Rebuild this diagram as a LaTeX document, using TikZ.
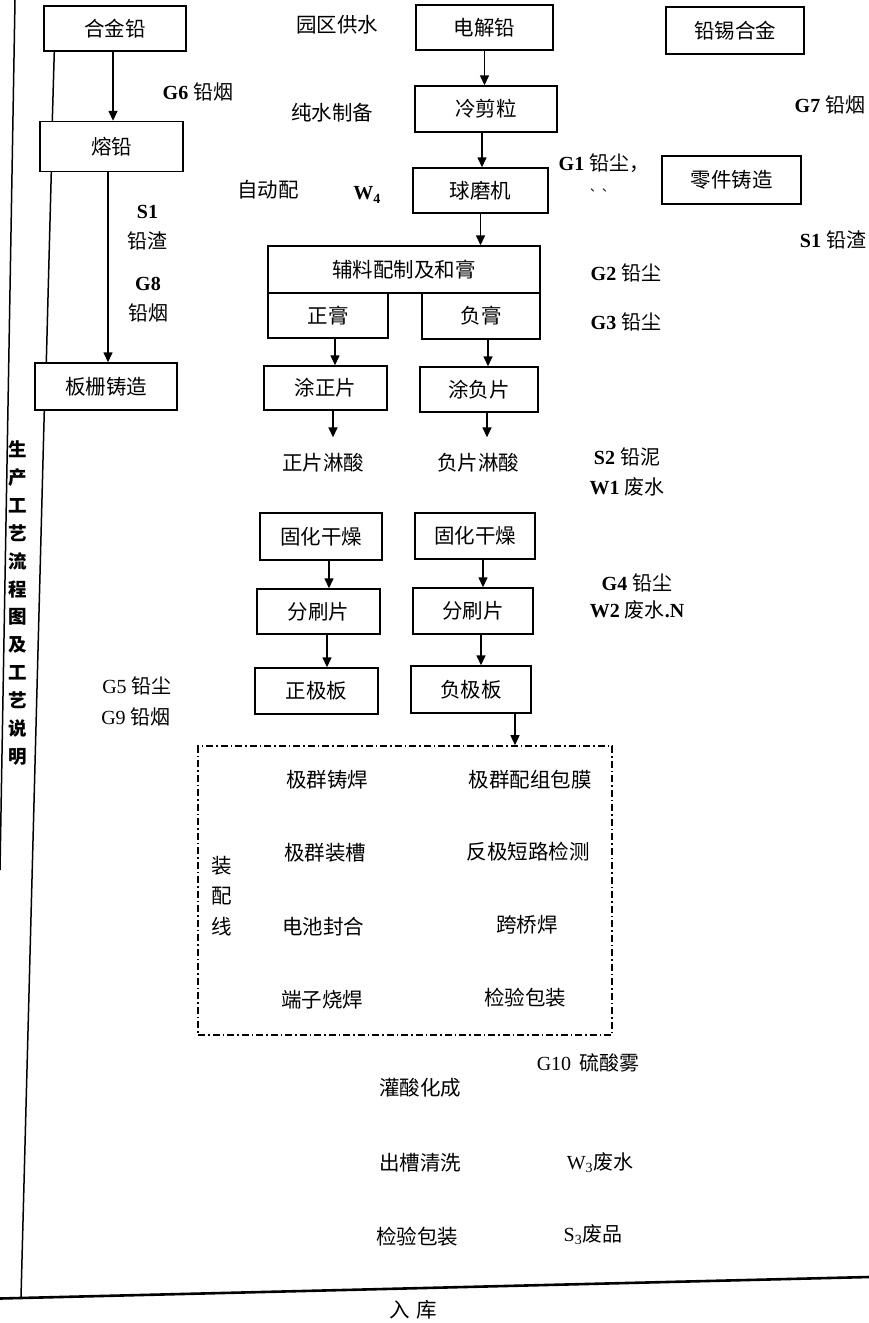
\documentclass[tikz,border=0pt]{standalone}
\usepackage{fontspec}
\setmainfont{Liberation Serif}
\newfontfamily\cjk{Noto Sans CJK SC}
\newcommand\zhs[1]{{\cjk #1}}
\usetikzlibrary{calc,arrows.meta}
\begin{document}
\begin{tikzpicture}[x=1pt,y=-1pt,
  every node/.style={inner sep=0pt},
  box/.style={draw, line width=1.4pt, font=\cjk\fontsize{20.5}{24}\selectfont, align=center},
  zt/.style={font=\cjk\fontsize{20.5}{24}\selectfont, align=center},
  mt/.style={font=\fontsize{20}{24}\selectfont, align=center},
  arr/.style={line width=1.4pt, -{Triangle[length=10pt,width=9pt]}},
  ln/.style={line width=1.5pt},
  bln/.style={line width=2.6pt},
  dd/.style={draw, line width=1.6pt, dash pattern=on 7pt off 3pt on 1.5pt off 3pt},
]
\useasboundingbox (0,0) rectangle (869,1323);

% ---------- frame lines ----------
\coordinate (o1) at (15,0);
\coordinate (o2) at (0,870);
\coordinate (bL) at (0,1298.5);
\coordinate (bR) at (869,1277);
\coordinate (bl) at (21,1297.5);
\draw[ln] (o1) -- (o2);
\draw[bln] (bL) -- (bR);

\node[font=\cjk\bfseries\fontsize{18.5}{27.9}\selectfont, align=center] (vt) at (18,603)
  {生\\产\\工\\艺\\流\\程\\图\\及\\工\\艺\\说\\明};

% ---------- left column ----------
\node[box, minimum width=142pt, minimum height=45pt] (hjq) at (115,28.5) {合金铅};
\node[box, minimum width=143pt, minimum height=50pt] (rq) at (111.5,146.5) {熔铅};
\node[box, minimum width=142pt, minimum height=47pt] (bs) at (106,386.5) {板栅铸造};

\draw[arr] ($(hjq.south)+(-2,0)$) -- ($(hjq.south |- rq.north)+(-2,0)$);
\draw[arr] ($(rq.south)+(-3.5,0)$) -- ($(rq.south |- bs.north)+(-3.5,0)$);
\draw[ln] ($(hjq.south west)+(11,0)$) -- ($(rq.north west)+(13,0)$);
\draw[ln] ($(rq.south west)+(12,0)$) -- ($(bs.north west)+(12,0)$);
\draw[ln] ($(bs.south west)+(10,0)$) -- (bl);

\node[mt] (g6) at (198,92) {\textbf{G6} \zhs{铅烟}};
\node[mt, font=\fontsize{20}{30}\selectfont] (s1a) at (147.5,228) {\textbf{S1}\\\zhs{铅渣}};
\node[mt, font=\fontsize{20}{30}\selectfont] (g8) at (148,300) {\textbf{G8}\\\zhs{铅烟}};
\node[mt] (g5) at (137,686) {G5 \zhs{铅尘}};
\node[mt] (g9) at (136,717) {G9 \zhs{铅烟}};

% ---------- water labels ----------
\node[zt] (yq) at (337,25) {园区供水};
\node[zt] (cs) at (332,113) {纯水制备};
\node[zt] (zdp) at (268,190) {自动配};
\node[mt] (w4) at (367,195) {\textbf{W\textsubscript{4}}};

% ---------- middle column ----------
\node[box, minimum width=137pt, minimum height=45pt] (dj) at (484.5,27.5) {电解铅};
\node[box, minimum width=142pt, minimum height=46pt] (lj) at (486,109) {冷剪粒};
\node[box, minimum width=135pt, minimum height=45pt] (qm) at (480.5,190.5) {球磨机};
\node[box, minimum width=272pt, minimum height=47pt] (fl) at (404,269.5) {辅料配制及和膏};
\node[box, minimum width=120pt, minimum height=45pt] (zg) at (328,315.5) {正膏};
\node[box, minimum width=118pt, minimum height=46pt] (fg) at (481,316) {负膏};
\node[box, minimum width=123pt, minimum height=44pt] (tz) at (325.5,388) {涂正片};
\node[box, minimum width=118pt, minimum height=45pt] (tf) at (479,389.5) {涂负片};
\node[zt] (lsz) at (323,463) {正片淋酸};
\node[zt] (lsf) at (478,463) {负片淋酸};
\node[box, minimum width=122pt, minimum height=47pt] (gh1) at (321,536.5) {固化干燥};
\node[box, minimum width=120pt, minimum height=46pt] (gh2) at (475,536) {固化干燥};
\node[box, minimum width=123pt, minimum height=45pt] (fs1) at (318.5,611.5) {分刷片};
\node[box, minimum width=120pt, minimum height=46pt] (fs2) at (473,611) {分刷片};
\node[box, minimum width=123pt, minimum height=46pt] (zj) at (316.5,691) {正极板};
\node[box, minimum width=120pt, minimum height=47pt] (fj) at (471,689.5) {负极板};

\draw[arr] (dj.south) -- (dj.south |- lj.north);
\draw[arr] ($(lj.south)+(-4,0)$) -- ($(lj.south |- qm.north)+(-4,0)$);
\draw[arr] (qm.south) -- (qm.south |- fl.north);
\draw[arr] ($(zg.south)+(7,0)$) -- ($(zg.south |- tz.north)+(7,0)$);
\draw[arr] ($(fg.south)+(7,0)$) -- ($(fg.south |- tf.north)+(7,0)$);
\draw[arr, shorten >=16pt] ($(tz.south)+(7.5,0)$) -- ($(tz.south |- lsz.north)+(7.5,0)$);
\draw[arr, shorten >=16pt] ($(tf.south)+(8,0)$) -- ($(tf.south |- lsf.north)+(8,0)$);
\draw[arr] ($(gh1.south)+(8,0)$) -- ($(gh1.south |- fs1.north)+(8,0)$);
\draw[arr] ($(gh2.south)+(8,0)$) -- ($(gh2.south |- fs2.north)+(8,0)$);
\draw[arr] ($(fs1.south)+(8.5,0)$) -- ($(fs1.south |- zj.north)+(8.5,0)$);
\draw[arr] ($(fs2.south)+(8,0)$) -- ($(fs2.south |- fj.north)+(8,0)$);

% ---------- right side ----------
\node[box, minimum width=138pt, minimum height=47pt] (qx) at (735,30.5) {铅锡合金};
\node[box, minimum width=139pt, minimum height=48pt] (ljz) at (731.5,180) {零件铸造};
\node[mt] (g7) at (830,105) {\textbf{G7} \zhs{铅烟}};
\node[mt] (g1) at (604,163) {\textbf{G1} \zhs{铅尘，}};
\node[font=\cjk\fontsize{12}{14}\selectfont] (dd1) at (602,190) {、、};
\node[mt] (s1b) at (833,240) {\textbf{S1} \zhs{铅渣}};
\node[mt] (g2) at (626,273) {\textbf{G2} \zhs{铅尘}};
\node[mt] (g3) at (626,322) {\textbf{G3} \zhs{铅尘}};
\node[mt] (s2) at (627,457) {\textbf{S2} \zhs{铅泥}};
\node[mt] (w1) at (627,487) {\textbf{W1} \zhs{废水}};
\node[mt] (g4) at (637,583) {\textbf{G4} \zhs{铅尘}};
\node[mt] (w2) at (637,610) {\textbf{W2} \zhs{废水}\textbf{.N}};

% ---------- assembly line ----------
\node[dd, minimum width=414pt, minimum height=289pt] (zpx) at (405,890.5) {};
\draw[arr] ($(fj.south)+(44,0)$) -- ($(fj.south |- zpx.north)+(44,0)$);

\node[zt] (a1) at (327,780) {极群铸焊};
\node[zt] (a2) at (530,780) {极群配组包膜};
\node[zt] (a3) at (325,853) {极群装槽};
\node[zt] (a4) at (528,852) {反极短路检测};
\node[zt] (a5) at (323,927) {电池封合};
\node[zt] (a6) at (527,925) {跨桥焊};
\node[zt] (a7) at (322,1000) {端子烧焊};
\node[zt] (a8) at (525,998) {检验包装};
\node[zt, font=\cjk\fontsize{20.5}{30.5}\selectfont] (zpl) at (222,896) {装\\配\\线};

% ---------- bottom ----------
\node[mt] (g10) at (588,1063) {G10\hspace{8pt}\zhs{硫酸雾}};
\node[zt] (b1) at (420,1088) {灌酸化成};
\node[zt] (b2) at (420,1163) {出槽清洗};
\node[mt] (w3) at (600,1163) {W\textsubscript{3}\zhs{废水}};
\node[zt] (b3) at (417,1237) {检验包装};
\node[mt] (s3) at (593,1235) {S\textsubscript{3}\zhs{废品}};
\node[zt] (rk) at (413,1310) {入\hspace{7pt}库};
\end{tikzpicture}
\end{document}
